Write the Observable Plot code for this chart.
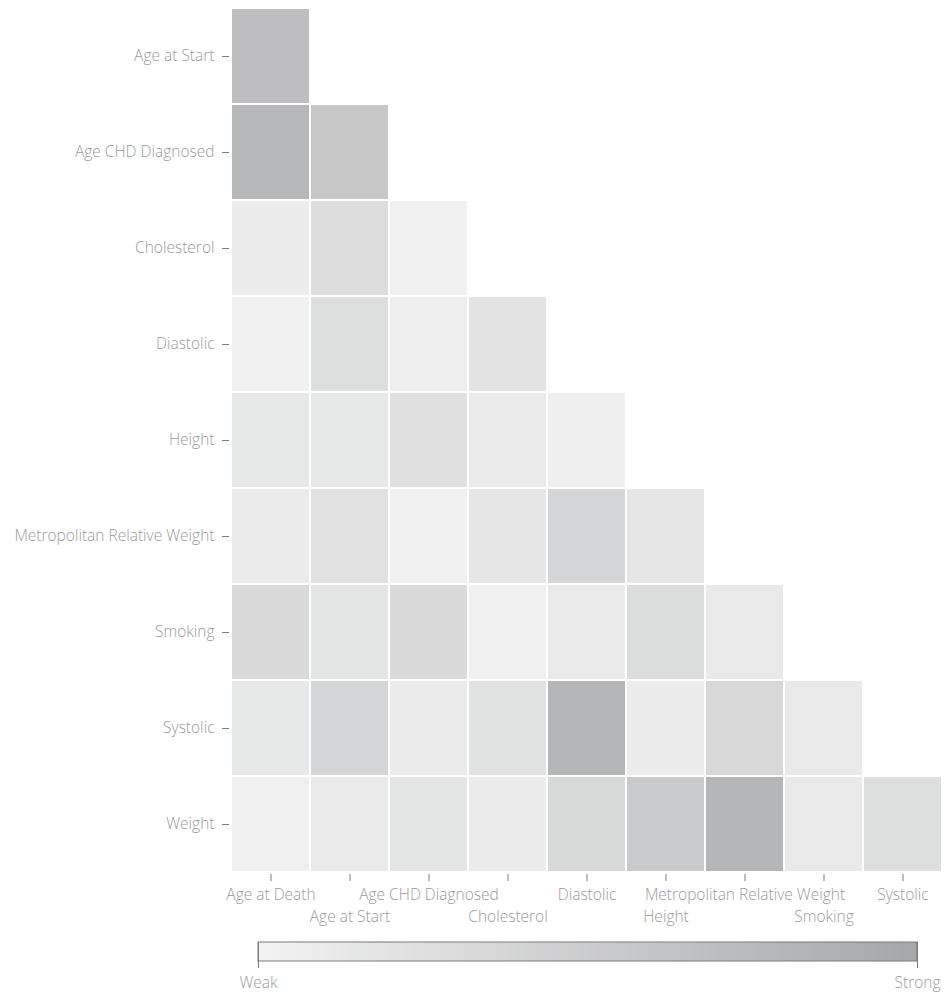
<!DOCTYPE html>
<html>
<head>
<meta charset="utf-8">
<script src="https://cdn.jsdelivr.net/npm/d3@7"></script>
<script src="https://cdn.jsdelivr.net/npm/@observablehq/plot@0.6"></script>
<style>
  html, body { margin: 0; padding: 0; background: #fff; }
  #chart svg { display: block; }
</style>
</head>
<body>
<div id="chart"></div>
<script>
// Row (y) and column (x) categories
const rowLabels = ["Age at Start", "Age CHD Diagnosed", "Cholesterol", "Diastolic", "Height",
  "Metropolitan Relative Weight", "Smoking", "Systolic", "Weight"];
const colLabels = ["Age at Death", "Age at Start", "Age CHD Diagnosed", "Cholesterol", "Diastolic",
  "Height", "Metropolitan Relative Weight", "Smoking", "Systolic"];

// Correlation strength (0 = weak, 1 = strong), one array per row, read left to right
const ageAtStart       = [0.69];
const ageCHDDiagnosed  = [0.77, 0.57];
const cholesterol      = [0.08, 0.28, 0.03];
const diastolic        = [0.03, 0.27, 0.05, 0.20];
const height           = [0.14, 0.14, 0.24, 0.09, 0.04];
const metroRelWeight   = [0.09, 0.23, 0.03, 0.16, 0.39, 0.16];
const smoking          = [0.32, 0.18, 0.32, 0.03, 0.11, 0.30, 0.12];
const systolic         = [0.14, 0.39, 0.09, 0.22, 0.80, 0.08, 0.36, 0.12];
const weight           = [0.03, 0.11, 0.18, 0.09, 0.35, 0.54, 0.80, 0.12, 0.27];

const rowValues = [ageAtStart, ageCHDDiagnosed, cholesterol, diastolic, height,
  metroRelWeight, smoking, systolic, weight];

const legendLabels = ["Weak", "Strong"];

const cells = rowLabels.flatMap((row, i) =>
  rowValues[i].map((v, j) => ({row, col: colLabels[j], value: v})));

const colorRange = ["#f2f2f2", "#a6a7a9"];
const font = "'Open Sans', Lato, sans-serif";
const textColor = "#9a9a9a";
const fontSize = "15.5px";

const evenCols = colLabels.filter((d, i) => i % 2 === 0);
const oddCols = colLabels.filter((d, i) => i % 2 === 1);

const chart = Plot.plot({
  width: 944,
  height: 930,
  marginLeft: 229,
  marginRight: 0,
  marginTop: 6,
  marginBottom: 56,
  style: {fontFamily: font, fontSize, color: textColor, fontWeight: 300},
  x: {domain: colLabels, padding: 0, label: null},
  y: {domain: rowLabels, padding: 0, label: null},
  color: {type: "linear", domain: [0, 1], range: colorRange},
  marks: [
    Plot.cell(cells, {x: "col", y: "row", fill: "value", inset: 1}),
    Plot.axisY({tickSize: 7, tickPadding: 8, stroke: "#7a7a7a", fill: textColor}),
    Plot.axisX({tickSize: 7, stroke: "#7a7a7a", tickFormat: () => ""}),
    Plot.axisX({ticks: evenCols, tickSize: 0, tickPadding: 14, fill: textColor}),
    Plot.axisX({ticks: oddCols, tickSize: 0, tickPadding: 36, fill: textColor})
  ]
});

const legend = Plot.legend({
  legend: "ramp",
  color: {type: "linear", domain: [0, 1], range: colorRange},
  width: 944,
  height: 63,
  marginLeft: 258,
  marginRight: 27,
  marginTop: 12,
  marginBottom: 32,
  tickSize: 7,
  ticks: [0, 1],
  tickFormat: d => legendLabels[d],
  style: {fontFamily: font, fontSize, color: textColor, fontWeight: 300}
});

const el = document.getElementById("chart");
el.appendChild(chart);
el.appendChild(legend);

// outline the ramp bar, darken its tick lines, and drop labels a little lower
const lsvg = d3.select(legend);
lsvg.selectAll(".tick line").attr("stroke", "#7a7a7a");
lsvg.selectAll(".tick text").attr("y", 16).attr("fill", textColor);
lsvg.append("rect")
  .attr("x", 258).attr("y", 12)
  .attr("width", 944 - 258 - 27).attr("height", 63 - 12 - 32)
  .attr("fill", "none").attr("stroke", "#7a7a7a").attr("stroke-width", 1);
</script>
</body>
</html>
